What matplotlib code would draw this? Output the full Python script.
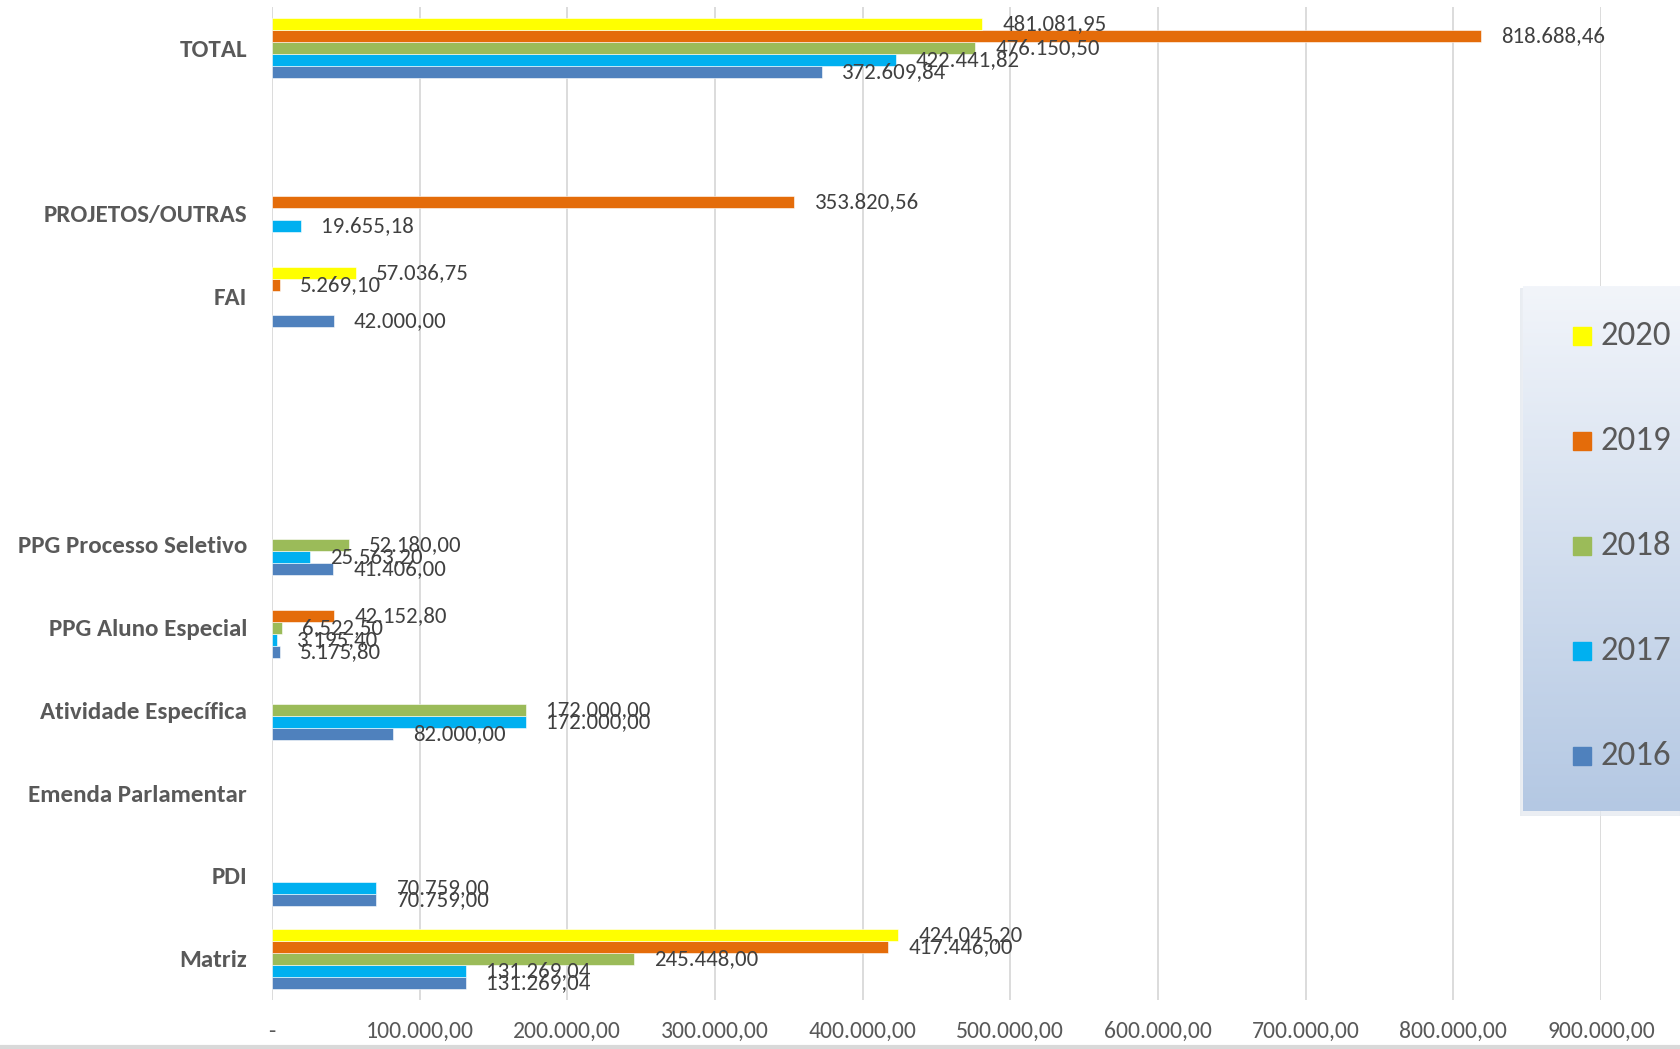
import matplotlib
matplotlib.use("Agg")
import matplotlib.pyplot as plt
import numpy as np
from matplotlib.patches import Rectangle

plt.rcParams['font.family'] = ['Carlito', 'Lato', 'DejaVu Sans']

# bottom to top
categories = ["Matriz", "PDI", "Emenda Parlamentar", "Atividade Específica",
              "PPG Aluno Especial", "PPG Processo Seletivo", "", "",
              "FAI", "PROJETOS/OUTRAS", "", "TOTAL"]

years = ["2016", "2017", "2018", "2019", "2020"]
colors = ["#4F81BD", "#00B0F0", "#9BBB59", "#E46C0A", "#FFFF00"]

v2016 = [131269.04, 70759.00, 0, 82000.00, 5175.80, 41406.00, 0, 0, 42000.00, 0, 0, 372609.84]
v2017 = [131269.04, 70759.00, 0, 172000.00, 3195.40, 25563.20, 0, 0, 0, 19655.18, 0, 422441.82]
v2018 = [245448.00, 0, 0, 172000.00, 6522.50, 52180.00, 0, 0, 0, 0, 0, 476150.50]
v2019 = [417446.00, 0, 0, 0, 42152.80, 0, 0, 0, 5269.10, 353820.56, 0, 818688.46]
v2020 = [424045.20, 0, 0, 0, 0, 0, 0, 0, 57036.75, 0, 0, 481081.95]
series = [v2016, v2017, v2018, v2019, v2020]

xticks = [0, 100000, 200000, 300000, 400000, 500000, 600000, 700000, 800000, 900000]


def br(v):
    s = f"{v:,.2f}"
    return s.replace(",", "X").replace(".", ",").replace("X", ".")


def tick_label(v):
    return "-" if v == 0 else br(v)


W, H = 1680, 1049
fig = plt.figure(figsize=(W / 100, H / 100), dpi=100)
fig.patch.set_facecolor("white")
ax = fig.add_axes([272 / W, 1 - 1000 / H, (1601 - 272) / W, (1000 - 7) / H])

y = np.arange(len(categories))
h = 0.145
txt_col = "#595959"
lab_col = "#404040"

for k, (vals, col) in enumerate(zip(series, colors)):
    off = (k - 2) * h
    arr = np.array(vals, dtype=float)
    arr[arr == 0] = np.nan
    ax.barh(y + off, arr, height=h, color=col, edgecolor="white", linewidth=0.4, zorder=3)
    for yi, v in zip(y, vals):
        if v:
            ax.annotate(br(v), (v, yi + off), xytext=(20, 0), textcoords="offset pixels",
                        ha="left", va="center", fontsize=16.5, color=lab_col, zorder=4)

ax.set_xlim(0, 900000)
ax.set_ylim(-0.5, len(categories) - 0.5)
ax.set_xticks(xticks)
ax.set_xticklabels([tick_label(t) for t in xticks], fontsize=17, color=txt_col)
ax.set_yticks(y)
ax.set_yticklabels(categories, fontsize=18, fontweight="bold", color=txt_col)
ax.tick_params(axis="x", length=0, pad=15)
ax.tick_params(axis="y", length=0, pad=18)
for s in ax.spines.values():
    s.set_visible(False)
ax.grid(axis="x", color="#D9D9D9", linewidth=1.3, zorder=0)
ax.set_axisbelow(True)

# legend box with gradient
lx0, lx1, ly0, ly1 = 1523, 1680, 286, 811
sax = fig.add_axes([(lx0 - 3) / W, 1 - (ly1 + 5) / H, (lx1 - lx0 + 3) / W, (ly1 - ly0 + 3) / H])
sax.set_axis_off()
sax.add_patch(Rectangle((0, 0), 1, 1, transform=sax.transAxes, color="#E3E8EF", alpha=0.7))
lax = fig.add_axes([lx0 / W, 1 - ly1 / H, (lx1 - lx0) / W, (ly1 - ly0) / H])
grad = np.linspace(0, 1, 256).reshape(-1, 1)
top = np.array([0xF2, 0xF5, 0xFA]) / 255
bot = np.array([0xB4, 0xC8, 0xE3]) / 255
img = top + (bot - top) * grad[:, :, None]
lax.imshow(img, aspect="auto", extent=[0, 1, 0, 1], origin="upper")
lax.set_xlim(0, 1)
lax.set_ylim(0, 1)
lax.set_axis_off()

ys = [756, 651, 546, 441, 336]
for yr, col, yp in zip(years, colors, ys):
    fy = 1 - (yp - ly0) / (ly1 - ly0)
    sq = 18
    lax.add_patch(Rectangle(((1573 - lx0) / (lx1 - lx0), fy - sq / 2 / (ly1 - ly0)),
                            sq / (lx1 - lx0), sq / (ly1 - ly0), color=col, zorder=3))
    lax.text((1600 - lx0) / (lx1 - lx0), fy, yr, fontsize=25, color=txt_col,
             ha="left", va="center", zorder=3)

# bottom border
fig.add_artist(plt.Line2D([0, 1], [2.5 / H, 2.5 / H], color="#D9D9D9", linewidth=3,
                          transform=fig.transFigure))

fig.savefig("out.png", dpi=100)
